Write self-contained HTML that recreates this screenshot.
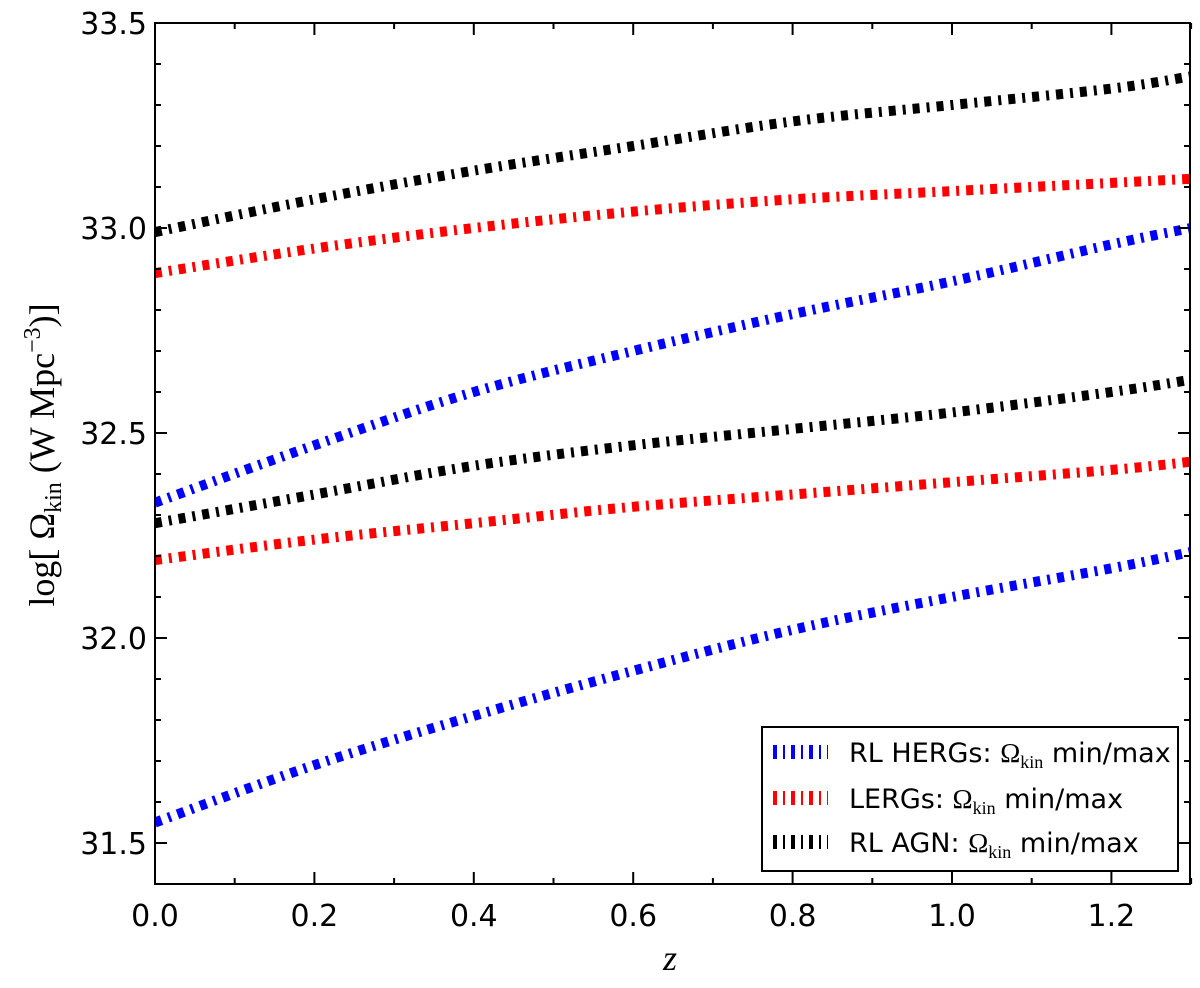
<!DOCTYPE html>
<html><head><meta charset="utf-8"><style>
body{margin:0;background:#fff;}
svg text{font-family:"DejaVu Sans","Liberation Sans",sans-serif;}
</style></head><body>
<svg id="chart" width="1200" height="983">
<defs><clipPath id="c"><rect x="155" y="23" width="1035" height="861"/></clipPath></defs>
<g id="plot" clip-path="url(#c)"></g>
<g id="axes"></g>
<text x="670" y="970" font-size="36" font-style="italic" style="font-family:'Liberation Serif',serif" text-anchor="middle">z</text>
<text transform="translate(54,455) rotate(-90)" font-size="36" style="font-family:'Liberation Serif',serif" text-anchor="middle">log[ Ω<tspan font-size="24" dy="7">kin</tspan><tspan dy="-7"> (W Mpc</tspan><tspan font-size="24" dy="-14">−3</tspan><tspan dy="14">)]</tspan></text>
<g>
<rect x="762" y="727" width="416" height="144" fill="#fff" stroke="#000" stroke-width="2"/>
<g>
<line x1="773" x2="828" y1="752" y2="752" stroke="#0000ff" stroke-width="14" stroke-dasharray="4 6 2 6"/>
<text x="849" y="762" font-size="27">RL HERGs: <tspan style="font-family:'Liberation Serif',serif">Ω<tspan font-size="18" dy="6">kin</tspan></tspan><tspan dy="-6"> min/max</tspan></text></g>
<g>
<line x1="773" x2="828" y1="798" y2="798" stroke="#ff0000" stroke-width="14" stroke-dasharray="4 6 2 6"/>
<text x="849" y="808" font-size="27">LERGs: <tspan style="font-family:'Liberation Serif',serif">Ω<tspan font-size="18" dy="6">kin</tspan></tspan><tspan dy="-6"> min/max</tspan></text></g>
<g>
<line x1="773" x2="828" y1="842" y2="842" stroke="#000" stroke-width="14" stroke-dasharray="4 6 2 6"/>
<text x="849" y="852" font-size="27">RL AGN: <tspan style="font-family:'Liberation Serif',serif">Ω<tspan font-size="18" dy="6">kin</tspan></tspan><tspan dy="-6"> min/max</tspan></text></g>
</g>
</svg>
<script>
const zs = [0,0.2,0.4,0.6,0.8,1.0,1.2,1.3];
const hergMax = [32.33,32.47,32.60,32.70,32.79,32.87,32.96,33.00];
const hergMin = [31.55,31.69,31.81,31.92,32.02,32.10,32.17,32.21];
const lergMax = [32.89,32.95,33.00,33.04,33.07,33.09,33.11,33.12];
const lergMin = [32.19,32.24,32.28,32.32,32.35,32.38,32.41,32.43];
const agnMax = [32.99,33.07,33.14,33.20,33.26,33.30,33.34,33.37];
const agnMin = [32.28,32.35,32.42,32.47,32.51,32.55,32.60,32.63];
const xTicks = [0,0.2,0.4,0.6,0.8,1.0,1.2];
const xTickLabels = ["0.0","0.2","0.4","0.6","0.8","1.0","1.2"];
const yTicks = [31.5,32.0,32.5,33.0,33.5];
const yTickLabels = ["31.5","32.0","32.5","33.0","33.5"];

const L=155,R=1190,T=23,B=884;
const X=v=>L+v*797;
const Y=v=>228+(33.0-v)*410;
const NS="http://www.w3.org/2000/svg";
const plot=document.getElementById('plot');
const axes=document.getElementById('axes');
function mk(tag,attrs,parent){const e=document.createElementNS(NS,tag);for(const k in attrs)e.setAttribute(k,attrs[k]);parent.appendChild(e);return e;}

function smooth(pts){
  let d="M"+pts[0][0]+","+pts[0][1];
  for(let i=0;i<pts.length-1;i++){
    const p0=pts[i-1]||pts[i],p1=pts[i],p2=pts[i+1],p3=pts[i+2]||p2;
    d+=" C"+(p1[0]+(p2[0]-p0[0])/6)+","+(p1[1]+(p2[1]-p0[1])/6)+" "+(p2[0]-(p3[0]-p1[0])/6)+","+(p2[1]-(p3[1]-p1[1])/6)+" "+p2[0]+","+p2[1];
  }
  return d;
}
const series=[[hergMax,'#0000ff','herg-max-line'],[hergMin,'#0000ff','herg-min-line'],
[lergMax,'#ff0000','lerg-max-line'],[lergMin,'#ff0000','lerg-min-line'],
[agnMax,'#000000','agn-max-line'],[agnMin,'#000000','agn-min-line']];
series.forEach(s=>{
  const p=mk('path',{d:smooth(zs.map((z,i)=>[X(z),Y(s[0][i])])),fill:'none',stroke:s[1],'stroke-width':10,'stroke-dasharray':'7 7 3 7'},plot);
  
  
});

mk('rect',{x:L,y:T,width:R-L,height:B-T,fill:'none',stroke:'#000','stroke-width':2},axes);
for(let k=0;k<=13;k++){
  const v=k/10;const major=(k%2===0);const len=major?12:6;const x=X(v);
  mk('line',{x1:x,x2:x,y1:B,y2:B-len,stroke:'#000','stroke-width':2},axes);
  mk('line',{x1:x,x2:x,y1:T,y2:T+len,stroke:'#000','stroke-width':2},axes);
}
for(let k=0;k<=20;k++){
  const v=31.5+k/10;const major=(k%5===0);const len=major?12:6;const y=Y(v);
  mk('line',{x1:L,x2:L+len,y1:y,y2:y,stroke:'#000','stroke-width':2},axes);
  mk('line',{x1:R,x2:R-len,y1:y,y2:y,stroke:'#000','stroke-width':2},axes);
}
xTicks.forEach((v,i)=>{const t=mk('text',{x:X(v),y:B+42,'text-anchor':'middle','font-size':30},axes);t.textContent=xTickLabels[i];

});
yTicks.forEach((v,i)=>{const t=mk('text',{x:L-8,y:Y(v)+11,'text-anchor':'end','font-size':30},axes);t.textContent=yTickLabels[i];

});
</script>
</body></html>
